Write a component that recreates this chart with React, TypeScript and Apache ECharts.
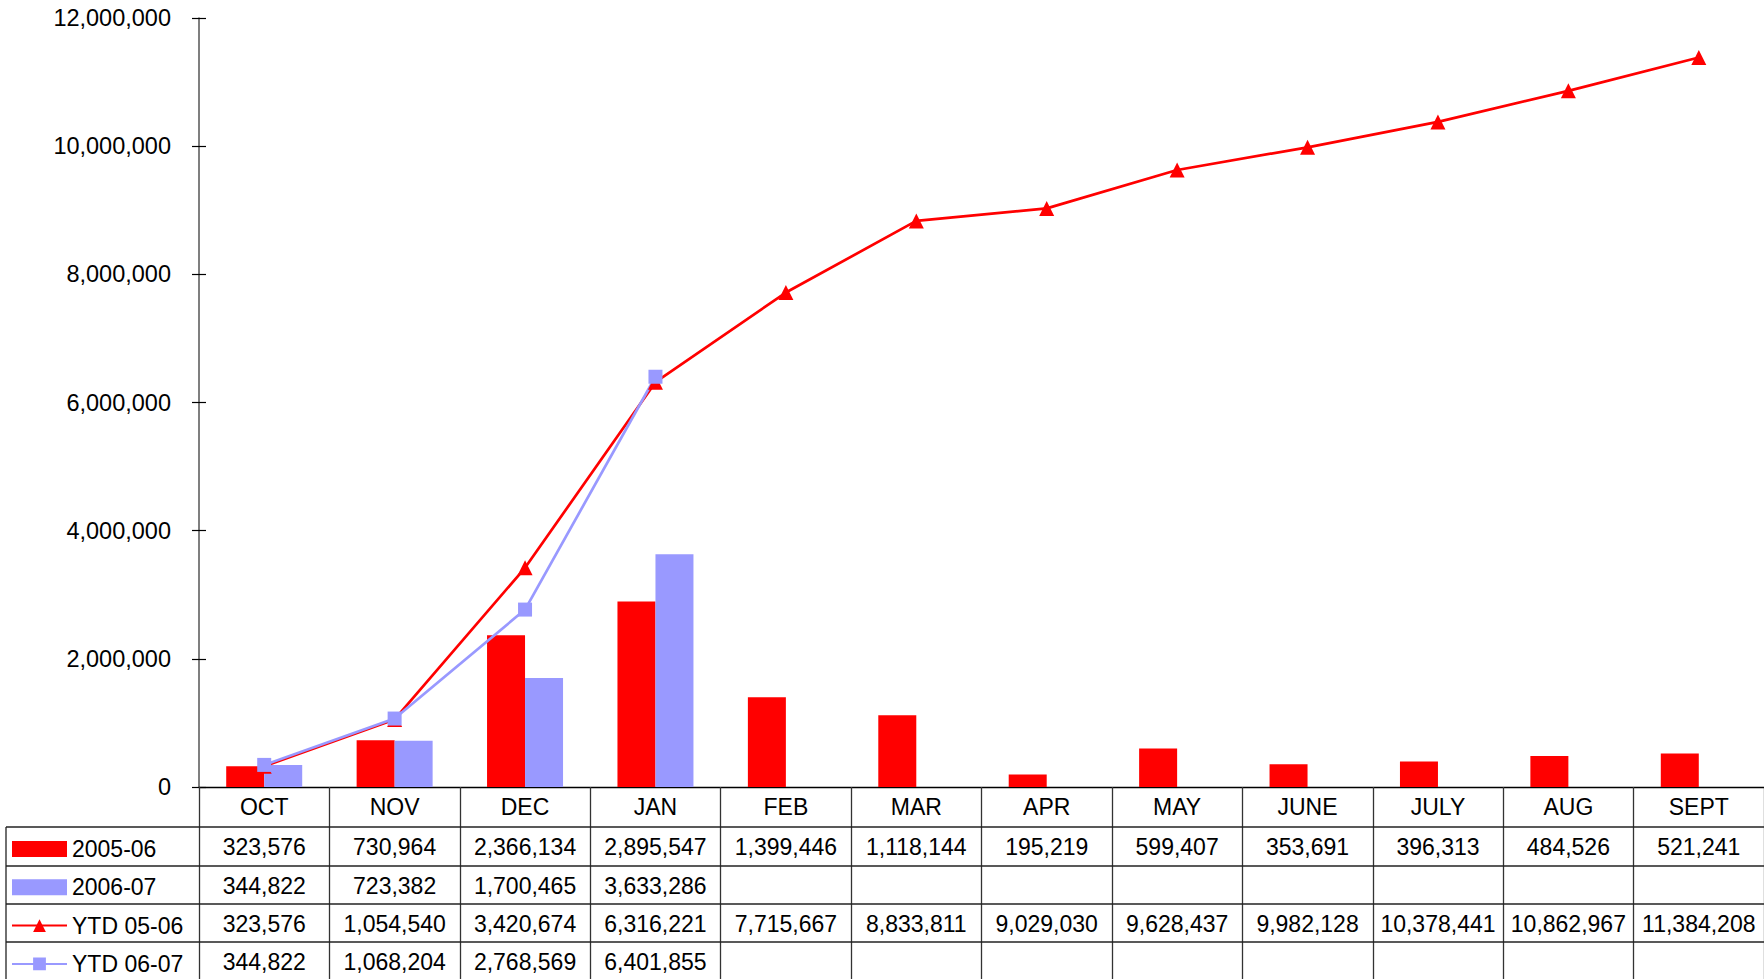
import React, { useEffect, useRef } from "react";
import * as echarts from "echarts";

const months = ["OCT", "NOV", "DEC", "JAN", "FEB", "MAR", "APR", "MAY", "JUNE", "JULY", "AUG", "SEPT"];
const sales0506 = [323576, 730964, 2366134, 2895547, 1399446, 1118144, 195219, 599407, 353691, 396313, 484526, 521241];
const sales0607 = [344822, 723382, 1700465, 3633286, null, null, null, null, null, null, null, null];
const ytd0506 = [323576, 1054540, 3420674, 6316221, 7715667, 8833811, 9029030, 9628437, 9982128, 10378441, 10862967, 11384208];
const ytd0607 = [344822, 1068204, 2768569, 6401855, null, null, null, null, null, null, null, null];
const seriesNames = ["2005-06", "2006-07", "YTD 05-06", "YTD 06-07"];
const yTicks = { min: 0, max: 12000000, interval: 2000000 };

const RED = "#FF0000";
const BLUE = "#9999FF";
const FONT = "'Liberation Sans', Arial, sans-serif";

const fmt = (v: number | null) => (v == null ? "" : v.toLocaleString("en-US"));

export default function App() {
  const ref = useRef<HTMLDivElement>(null);
  useEffect(() => {
    if (!ref.current) return;
    const chart = echarts.init(ref.current, undefined, { renderer: "svg" });
    const rows = [sales0506, sales0607, ytd0506, ytd0607];
    const rowOffsets = [40, 78.5, 116.5, 154.5];
    const tableAxes = rows.map((row, i) => ({
      type: "category",
      data: months,
      position: "bottom",
      offset: rowOffsets[i],
      axisLine: { show: false, onZero: false },
      axisTick: { show: false },
      splitLine: { show: false },
      axisLabel: {
        interval: 0,
        margin: 8.5,
        fontSize: 23,
        fontFamily: FONT,
        color: "#000",
        formatter: (_v: string, idx: number) => fmt(row[idx]),
      },
    }));
    const hLines = [827, 866, 904, 942].map((y) => ({
      type: "line",
      shape: { x1: 6, y1: y, x2: 1764, y2: y },
      style: { stroke: "#222", lineWidth: 1.3 },
      z: 10,
    }));
    chart.setOption({
      animation: false,
      backgroundColor: "#fff",
      textStyle: { fontFamily: FONT },
      grid: { left: 199, right: 0, top: 18, bottom: 192, containLabel: false },
      legend: {
        orient: "vertical",
        left: 11,
        top: 837.5,
        padding: 0,
        itemWidth: 55,
        itemHeight: 16,
        itemGap: 15.3,
        selectedMode: false,
        textStyle: { fontSize: 23, fontFamily: FONT, color: "#000", padding: [0, 0, 0, 0] },
        data: [
          { name: seriesNames[0], icon: "rect" },
          { name: seriesNames[1], icon: "rect" },
          { name: seriesNames[2] },
          { name: seriesNames[3] },
        ],
      },
      xAxis: [
        {
          type: "category",
          data: months,
          position: "bottom",
          boundaryGap: true,
          axisLine: { show: true, onZero: false, lineStyle: { color: "#000", width: 1.3 } },
          axisTick: { show: true, interval: 0, length: 193, lineStyle: { color: "#333", width: 1.3 } },
          axisLabel: { interval: 0, margin: 8, fontSize: 23, fontFamily: FONT, color: "#000" },
          splitLine: { show: false },
        },
        ...tableAxes,
      ],
      yAxis: [
        {
          type: "value",
          position: "left",
          min: yTicks.min,
          max: yTicks.max,
          interval: yTicks.interval,
          axisLine: { show: true, lineStyle: { color: "#555", width: 1.5 } },
          axisTick: { show: true, length: 7, lineStyle: { color: "#000", width: 1.2 } },
          axisLabel: {
            margin: 28,
            fontSize: 23.5,
            fontFamily: FONT,
            color: "#000",
            formatter: (v: number) => v.toLocaleString("en-US"),
          },
          splitLine: { show: false },
        },
        {
          type: "value",
          position: "left",
          min: yTicks.min,
          max: yTicks.max,
          interval: yTicks.interval,
          axisLine: { show: false },
          axisTick: { show: true, inside: true, length: 7, lineStyle: { color: "#000", width: 1.2 } },
          axisLabel: { show: false },
          splitLine: { show: false },
        },
      ],
      graphic: [
        ...hLines,
        {
          type: "line",
          shape: { x1: 6, y1: 827, x2: 6, y2: 979 },
          style: { stroke: "#222", lineWidth: 1.3 },
          z: 10,
        },
      ],
      series: [
        {
          name: seriesNames[0],
          type: "bar",
          data: sales0506,
          barWidth: 38,
          barGap: "0%",
          itemStyle: { color: RED },
        },
        {
          name: seriesNames[1],
          type: "bar",
          data: sales0607,
          barWidth: 38,
          barGap: "0%",
          itemStyle: { color: BLUE },
        },
        {
          name: seriesNames[2],
          type: "line",
          data: ytd0506,
          symbol: "triangle",
          symbolSize: 15,
          lineStyle: { color: RED, width: 2.7 },
          itemStyle: { color: RED },
        },
        {
          name: seriesNames[3],
          type: "line",
          data: ytd0607,
          symbol: "rect",
          symbolSize: 14,
          lineStyle: { color: BLUE, width: 2.7 },
          itemStyle: { color: BLUE },
        },
      ],
    });
    return () => chart.dispose();
  }, []);
  return (
    <div
      ref={ref}
      style={{ position: "fixed", left: 0, top: 0, width: 1764, height: 979, background: "#fff" }}
    />
  );
}
